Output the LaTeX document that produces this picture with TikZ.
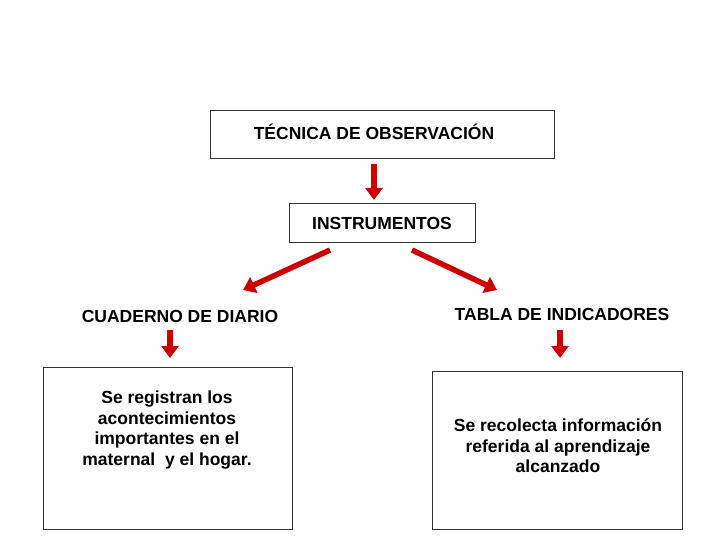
\documentclass[tikz,border=0pt]{standalone}
\usepackage{fontspec}
\setmainfont{Liberation Sans}
\usetikzlibrary{arrows.meta}
\definecolor{ared}{RGB}{204,0,0}
\begin{document}
\begin{tikzpicture}[x=1pt,y=-1pt,
  box/.style={draw=black!80,line width=0.8pt,inner sep=0},
  lbl/.style={font=\bfseries\fontsize{17.5}{20.5}\selectfont,align=center},
  rarrow/.style={draw=ared,line width=5.5pt,-{Triangle[width=17pt,length=12pt]}}]
\useasboundingbox (0,0) rectangle (728,546);
\draw[box] (210,110) rectangle (554,158);
\node[lbl] (t) at (374,132) {TÉCNICA DE OBSERVACIÓN};
\draw[box] (289,203) rectangle (475,242);
\node[lbl] (i) at (382,223) {INSTRUMENTOS};
\coordinate (a1) at (374,164); \coordinate (a2) at (374,200);
\draw[rarrow] (a1) -- (a2);
\coordinate (l1) at (330,250); \coordinate (l2) at (243,290);
\draw[rarrow] (l1) -- (l2);
\coordinate (r1) at (412,250); \coordinate (r2) at (497,290);
\draw[rarrow] (r1) -- (r2);
\node[lbl] (c) at (180,316) {CUADERNO DE DIARIO};
\node[lbl] (tb) at (562,314) {TABLA DE INDICADORES};
\coordinate (c1) at (170,330); \coordinate (c2) at (170,358);
\draw[rarrow] (c1) -- (c2);
\coordinate (d1) at (560,330); \coordinate (d2) at (560,358);
\draw[rarrow] (d1) -- (d2);
\draw[box] (43,367) rectangle (292,529);
\node[lbl] (bl) at (167,430) {Se registran los\\acontecimientos\\importantes en el\\maternal\ \ y el hogar.};
\draw[box] (432,371) rectangle (682,529);
\node[lbl] (br) at (558,446) {Se recolecta información\\referida al aprendizaje\\alcanzado};
\end{tikzpicture}
\end{document}
